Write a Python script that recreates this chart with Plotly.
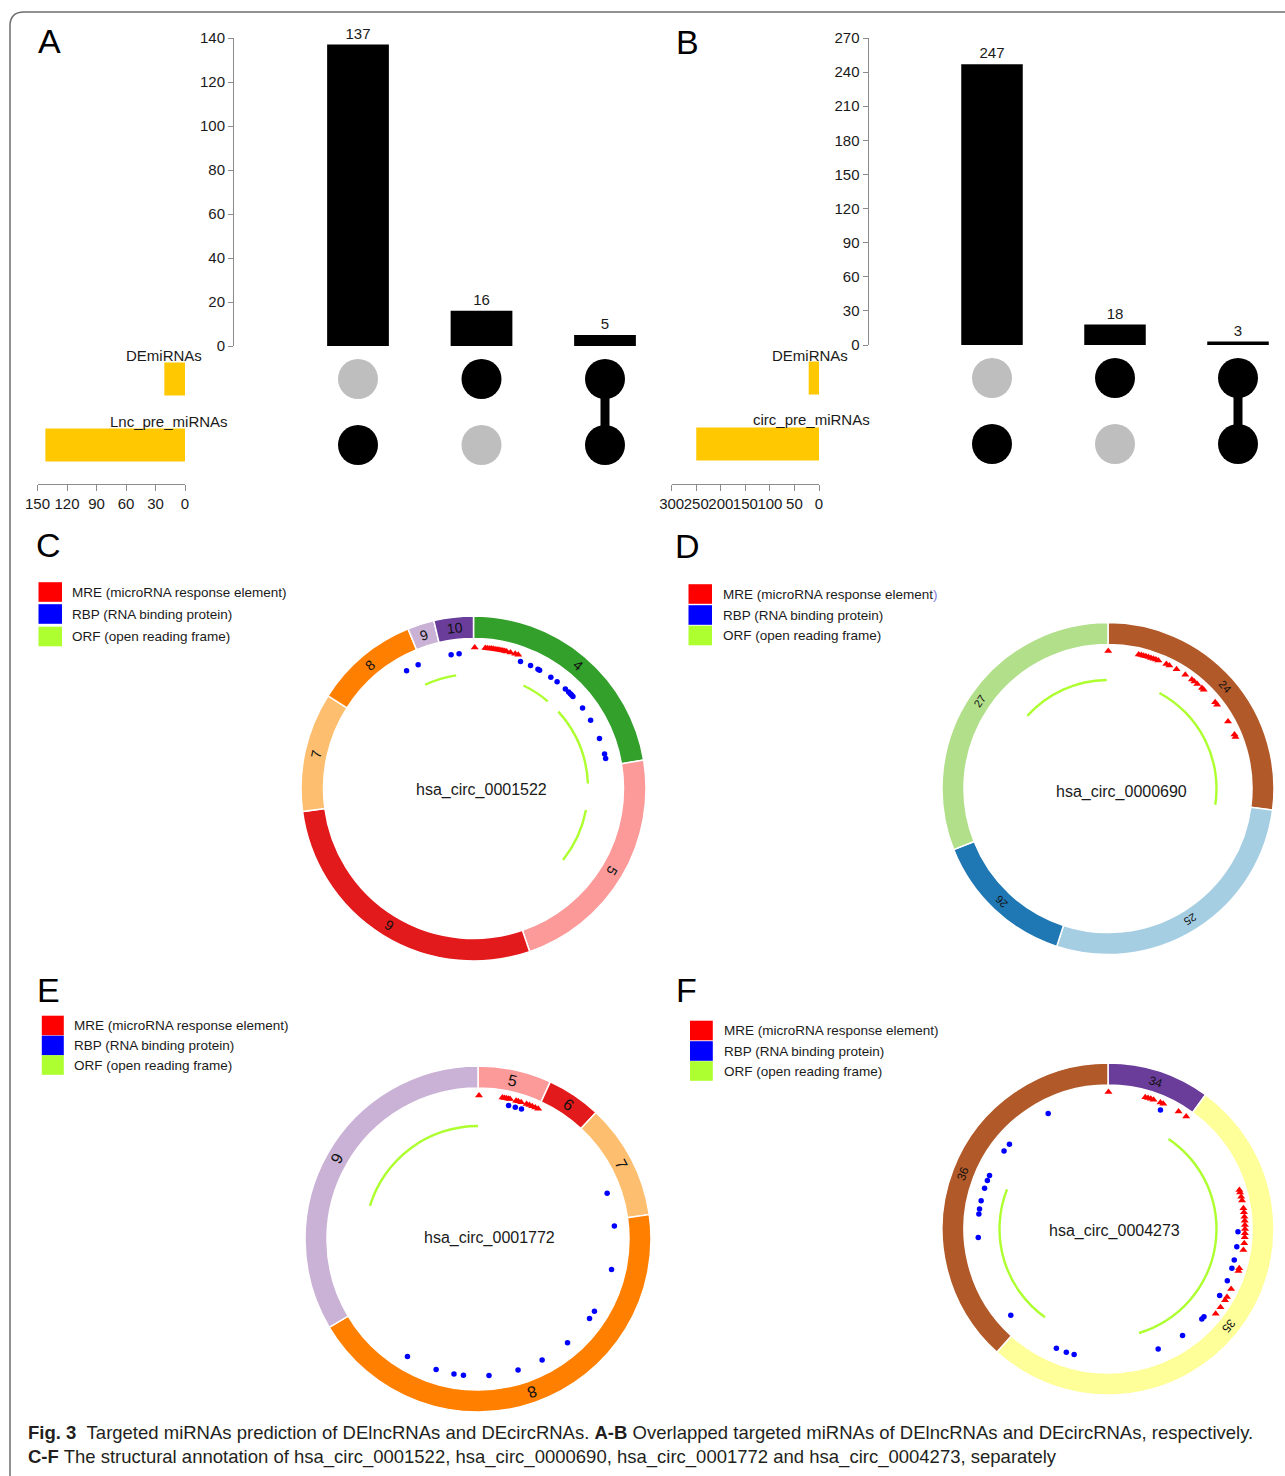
import math
import plotly.graph_objects as go

W, H = 1285, 1476
FONT = "Liberation Sans, Arial, Helvetica, sans-serif"


def px(x):
    return x / W


def py(y):
    return 1 - y / H


# ---------------- UpSet data ----------------
A_sets = ["DEmiRNAs", "Lnc_pre_miRNAs"]
A_counts = [137, 16, 5]
A_members = [[0, 1], [1, 0], [1, 1]]          # membership of each intersection in A_sets
A_count_ticks = [0, 20, 40, 60, 80, 100, 120, 140]
A_size_ticks = [0, 30, 60, 90, 120, 150]

B_sets = ["DEmiRNAs", "circ_pre_miRNAs"]
B_counts = [247, 18, 3]
B_members = [[0, 1], [1, 0], [1, 1]]
B_count_ticks = [0, 30, 60, 90, 120, 150, 180, 210, 240, 270]
B_size_ticks = [0, 50, 100, 150, 200, 250, 300]

# ------- circRNA structure (angles in degrees, clockwise from 12 o'clock) -------
C_name = "hsa_circ_0001522"
C_exons = [4, 5, 6, 7, 8, 9, 10]
C_bounds = [0, 80.5, 161, 262.3, 302.5, 337.7, 346.7, 360]
C_mre = [0.5, 4.8, 5.6, 6.4, 7.2, 8.0, 8.8, 9.6, 10.4, 11.2, 12.0, 12.8, 13.6, 15.2, 17.2, 18.5]
C_rbp = [20.3, 24.9, 28.4, 29.2, 34.8, 38.1, 42.7, 44.6, 45.6, 46.4, 47.2, 53.6, 59.8, 68.4,
         75.3, 77.2, 330.4, 335.9, 350.5, 353.9]
C_orf_start = [335.0, 25.9, 47.8, 100.8]
C_orf_end = [351.3, 40.4, 87.5, 128.6]

D_name = "hsa_circ_0000690"
D_exons = [24, 25, 26, 27]
D_bounds = [0, 97.5, 198, 248.4, 360]
D_mre = [0.1, 12.9, 14.0, 15.0, 16.0, 17.1, 18.2, 19.3, 20.4, 21.5, 25.1, 26.5, 29.9, 34.2,
         37.6, 38.9, 40.5, 43.1, 44.1, 51.2, 52.5, 60.8, 66.9, 68.0]
D_rbp = []
D_orf_start = [312.0, 28.3]
D_orf_end = [359.3, 98.6]

E_name = "hsa_circ_0001772"
E_exons = [5, 6, 7, 8, 9]
E_bounds = [0, 24.7, 43, 81.9, 239.3, 360]
E_mre = [0.4, 9.8, 10.6, 11.4, 12.2, 12.9, 15.4, 16.3, 17.5, 19.8, 21.0, 22.2, 23.5, 24.8]
E_rbp = [12.9, 15.8, 18.5, 70.5, 84.6, 102.9, 121.8, 125.5, 139.2, 152.1, 163.0, 175.4,
         186.1, 190.1, 197.8, 211.0]
E_orf_start = [287.0]
E_orf_end = [360.0]

F_name = "hsa_circ_0004273"
F_exons = [34, 35, 36]
F_bounds = [0, 36, 222.1, 360]
F_mre = [0.2, 15.8, 17.0, 18.2, 19.4, 22.5, 23.8, 31.0, 34.8, 73.5, 74.5, 76.4, 78.0, 81.3,
         83.0, 84.9, 86.5, 88.3, 90.0, 91.8, 93.5, 96.0, 98.8, 106.7, 107.8, 116.0, 119.7,
         121.3, 124.8, 128.2]
F_rbp = [23.8, 91.2, 97.8, 103.8, 107.6, 113.4, 120.8, 132.4, 133.8, 145.0, 157.3, 195.1,
         198.7, 203.4, 228.4, 266.3, 276.6, 278.8, 282.6, 288.3, 291.9, 294.3, 306.9, 310.7,
         332.6]
F_orf_start = [33.9, 215.5]
F_orf_end = [163.4, 291.4]

LEGEND_LABELS = ["MRE (microRNA response element)", "RBP (RNA binding protein)",
                 "ORF (open reading frame)"]

# ---------------- styles ----------------
PAIRED = ["#a6cee3", "#1f78b4", "#b2df8a", "#33a02c", "#fb9a99", "#e31a1c",
          "#fdbf6f", "#ff7f00", "#cab2d6", "#6a3d9a", "#ffff99", "#b15928"]
MRE_COLOR, RBP_COLOR, ORF_COLOR = "#ff0000", "#0000ff", "#adff2f"
SET_BAR_COLOR = "#ffc800"
DOT_ON, DOT_OFF = "#000000", "#bebebe"
AXIS_GREY = "#8c8c8c"
TXT = "#1a1a1a"

fig = go.Figure()
layout = {}
annotations = []
shapes = []


def key(kind, n):
    return kind + ("" if n == 1 else str(n))


def ref(kind, n):
    return kind[0] + ("" if n == 1 else str(n))


def add_upset(sets, counts, members, count_ticks, size_ticks, ids, g):
    nb, nm, ns = ids
    cols = list(range(len(counts)))
    rows = list(range(len(sets)))
    sizes = [sum(c for c, m in zip(counts, members) if m[i]) for i in rows]
    x_range = [-0.5, -0.5 + (g["bar_x1"] - g["bar_x0"]) / g["step"]]
    xdom = [px(g["bar_x0"]), px(g["bar_x1"])]
    hidden = dict(visible=False, automargin=False, fixedrange=True)

    # intersection size bars
    fig.add_trace(go.Bar(x=cols, y=counts, width=0.5, marker=dict(color="black", line_width=0),
                         text=[str(c) for c in counts], textposition="outside",
                         textfont=dict(size=15, color=TXT, family=FONT), constraintext="none",
                         cliponaxis=False, xaxis=ref("x", nb), yaxis=ref("y", nb),
                         hoverinfo="skip"))
    layout[key("xaxis", nb)] = dict(domain=xdom, range=x_range, anchor=ref("y", nb), **hidden)
    layout[key("yaxis", nb)] = dict(domain=[py(g["bar_bottom"]), py(g["bar_top"])],
                                    range=[0, count_ticks[-1]], anchor="free",
                                    position=px(g["axis_x"]), showline=True,
                                    linecolor=AXIS_GREY, linewidth=1, ticks="outside",
                                    ticklen=5, tickcolor=AXIS_GREY, tickvals=count_ticks,
                                    tickangle=0, automargin=False,
                                    tickfont=dict(size=15, color=TXT, family=FONT),
                                    showgrid=False, zeroline=False, fixedrange=True)

    # membership matrix
    for c, m in zip(cols, members):
        on = [r for r in rows if m[r]]
        if len(on) > 1:
            fig.add_trace(go.Scatter(x=[c, c], y=[min(on), max(on)], mode="lines",
                                     line=dict(color=DOT_ON, width=9),
                                     xaxis=ref("x", nm), yaxis=ref("y", nm), hoverinfo="skip"))
    dx, dy, dc = [], [], []
    for c, m in zip(cols, members):
        for r in rows:
            dx.append(c)
            dy.append(r)
            dc.append(DOT_ON if m[r] else DOT_OFF)
    fig.add_trace(go.Scatter(x=dx, y=dy, mode="markers",
                             marker=dict(size=40, color=dc, line_width=0),
                             xaxis=ref("x", nm), yaxis=ref("y", nm), hoverinfo="skip"))
    layout[key("xaxis", nm)] = dict(domain=xdom, range=x_range, anchor=ref("y", nm), **hidden)
    layout[key("yaxis", nm)] = dict(domain=[py(g["mat_bottom"]), py(g["mat_top"])],
                                    range=[len(rows) - 0.5, -0.5], anchor=ref("x", nm),
                                    **hidden)

    # set size bars
    fig.add_trace(go.Bar(x=sizes, y=rows, orientation="h", width=0.5,
                         marker=dict(color=SET_BAR_COLOR, line_width=0),
                         xaxis=ref("x", ns), yaxis=ref("y", ns), hoverinfo="skip"))
    layout[key("xaxis", ns)] = dict(domain=[px(g["size_x0"]), px(g["size_x1"])],
                                    range=[size_ticks[-1], 0], anchor="free",
                                    position=py(g["size_axis_y"]), side="bottom",
                                    showline=True, linecolor=AXIS_GREY, linewidth=1,
                                    ticks="outside", ticklen=6, tickcolor=AXIS_GREY,
                                    tickvals=size_ticks, tickangle=0, automargin=False,
                                    tickfont=dict(size=15, color=TXT, family=FONT),
                                    showgrid=False, zeroline=False, fixedrange=True)
    layout[key("yaxis", ns)] = dict(domain=[py(g["mat_bottom"]), py(g["mat_top"])],
                                    range=[len(rows) - 0.5, -0.5], anchor=ref("x", ns),
                                    **hidden)

    for name, xr, yl in zip(sets, g["label_right"], g["label_y"]):
        annotations.append(dict(text=name, x=px(xr), y=py(yl), xref="paper", yref="paper",
                                xanchor="right", yanchor="middle", showarrow=False,
                                font=dict(size=15, color=TXT, family=FONT)))


add_upset(A_sets, A_counts, A_members, A_count_ticks, A_size_ticks, (1, 2, 3),
          dict(bar_x0=296.25, bar_x1=667, step=123.5, bar_top=38, bar_bottom=346,
               axis_x=233, mat_top=346, mat_bottom=478, size_x0=37.5, size_x1=185,
               size_axis_y=484, label_right=[204, 230], label_y=[355, 421]))
add_upset(B_sets, B_counts, B_members, B_count_ticks, B_size_ticks, (4, 5, 6),
          dict(bar_x0=930.5, bar_x1=1285, step=123, bar_top=38, bar_bottom=345,
               axis_x=867.5, mat_top=345, mat_bottom=477, size_x0=671.7, size_x1=819,
               size_axis_y=484, label_right=[850, 871.6], label_y=[355, 419]))


def add_circ(pid, name, exons, bounds, mre, rbp, orf_start, orf_end, cfg):
    cx, cy, half = cfg["cx"], cfg["cy"], cfg["half"]
    r_in, r_out = cfg["r_in"], cfg["r_out"]
    starts, ends = bounds[:-1], bounds[1:]
    mids = [(a + b) / 2 for a, b in zip(starts, ends)]
    spans = [b - a for a, b in zip(starts, ends)]
    colors = [PAIRED[(e - 1) % 12] for e in exons]

    fig.add_trace(go.Barpolar(theta=mids, width=spans, r=[r_out - r_in] * len(exons),
                              base=r_in, marker=dict(color=colors,
                                                     line=dict(color="white", width=1.5)),
                              subplot=pid, hoverinfo="skip"))
    if orf_start:
        o_mid = [(a + b) / 2 for a, b in zip(orf_start, orf_end)]
        o_span = [b - a for a, b in zip(orf_start, orf_end)]
        fig.add_trace(go.Barpolar(theta=o_mid, width=o_span, r=[2.4] * len(o_mid),
                                  base=cfg["orf_r"] - 1.2,
                                  marker=dict(color=ORF_COLOR, line_width=0),
                                  subplot=pid, hoverinfo="skip"))
    if rbp:
        fig.add_trace(go.Scatterpolar(theta=rbp, r=[cfg["rbp_r"]] * len(rbp), mode="markers",
                                      marker=dict(symbol="circle", size=5.5, color=RBP_COLOR,
                                                  line_width=0),
                                      subplot=pid, hoverinfo="skip"))
    if mre:
        fig.add_trace(go.Scatterpolar(theta=mre, r=[cfg["mre_r"]] * len(mre), mode="markers",
                                      marker=dict(symbol="triangle-up", size=7,
                                                  color=MRE_COLOR, line_width=0),
                                      subplot=pid, hoverinfo="skip"))

    layout[pid] = dict(domain=dict(x=[px(cx - half), px(cx + half)],
                                   y=[py(cy + half), py(cy - half)]),
                       bgcolor="rgba(0,0,0,0)", barmode="overlay", hole=0,
                       angularaxis=dict(rotation=90, direction="clockwise", visible=False,
                                        showgrid=False, thetaunit="degrees"),
                       radialaxis=dict(range=[0, half], visible=False, showgrid=False))

    # exon numbers written along the ring
    rl = (r_in + r_out) / 2
    for e, m in zip(exons, mids):
        t = math.radians(m)
        annotations.append(dict(text=str(e), x=px(cx + rl * math.sin(t)),
                                y=py(cy - rl * math.cos(t)), xref="paper", yref="paper",
                                xanchor="center", yanchor="middle", showarrow=False,
                                textangle=m if m <= 180 else m - 360,
                                font=dict(size=cfg["lab"], color="#111", family=FONT)))
    annotations.append(dict(text=name, x=px(cfg["name_xy"][0]), y=py(cfg["name_xy"][1]),
                            xref="paper", yref="paper", xanchor="center", yanchor="middle",
                            showarrow=False, font=dict(size=16, color=TXT, family=FONT)))

    # key
    lg = cfg["legend"]
    labels = lg.get("labels", LEGEND_LABELS)
    for col, yc, lab in zip([MRE_COLOR, RBP_COLOR, ORF_COLOR], lg["yc"], labels):
        shapes.append(dict(type="rect", xref="paper", yref="paper", x0=px(lg["x0"]),
                           x1=px(lg["x1"]), y0=py(yc + 9.8), y1=py(yc - 9.8),
                           fillcolor=col, line_width=0))
        annotations.append(dict(text=lab, x=px(lg["tx"]), y=py(yc), xref="paper",
                                yref="paper", xanchor="left", yanchor="middle",
                                showarrow=False,
                                font=dict(size=13.5, color=TXT, family=FONT)))


add_circ("polar", C_name, C_exons, C_bounds, C_mre, C_rbp, C_orf_start, C_orf_end,
         dict(cx=473.5, cy=788.5, half=178, r_in=150, r_out=172.5, mre_r=141, rbp_r=135.5,
              orf_r=114.5, lab=14, name_xy=(481, 790),
              legend=dict(x0=38.5, x1=62, yc=[592, 614, 636.5], tx=70)))
add_circ("polar2", D_name, D_exons, D_bounds, D_mre, D_rbp, D_orf_start, D_orf_end,
         dict(cx=1108, cy=788.5, half=170, r_in=144, r_out=166, mre_r=137.5, rbp_r=130,
              orf_r=108.5, lab=11, name_xy=(1121.5, 791.5),
              legend=dict(x0=688.5, x1=712, yc=[594, 615, 635.5], tx=721,
                          labels=["MRE (microRNA response element"
                                  "<span style='color:#7d7de0'>)</span>",
                                  LEGEND_LABELS[1], LEGEND_LABELS[2]])))
add_circ("polar3", E_name, E_exons, E_bounds, E_mre, E_rbp, E_orf_start, E_orf_end,
         dict(cx=478, cy=1239, half=178, r_in=151, r_out=173, mre_r=143.5, rbp_r=137,
              orf_r=113, lab=16, name_xy=(489, 1237.5),
              legend=dict(x0=41.8, x1=63.8, yc=[1025.5, 1045.5, 1065], tx=72)))
add_circ("polar4", F_name, F_exons, F_bounds, F_mre, F_rbp, F_orf_start, F_orf_end,
         dict(cx=1108, cy=1229, half=170, r_in=144, r_out=166, mre_r=137, rbp_r=130,
              orf_r=108.5, lab=12, name_xy=(1114.5, 1230.5),
              legend=dict(x0=690, x1=712.8, yc=[1030.5, 1051, 1071], tx=721.5)))

# panel letters
for letter, lx, ly in [("A", 49, 41), ("B", 687, 41.5), ("C", 48, 545),
                       ("D", 687, 546), ("E", 48, 990), ("F", 686, 990)]:
    annotations.append(dict(text=letter, x=px(lx), y=py(ly), xref="paper", yref="paper",
                            xanchor="center", yanchor="middle", showarrow=False,
                            font=dict(size=34, color="black", family=FONT)))

# figure caption
caption = [
    "<b>Fig. 3</b>&nbsp;&nbsp;Targeted miRNAs prediction of DElncRNAs and DEcircRNAs. "
    "<b>A-B</b> Overlapped targeted miRNAs of DElncRNAs and DEcircRNAs, respectively.",
    "<b>C-F</b> The structural annotation of hsa_circ_0001522, hsa_circ_0000690, "
    "hsa_circ_0001772 and hsa_circ_0004273, separately",
]
for line, ly in zip(caption, [1432, 1457]):
    annotations.append(dict(text=line, x=px(26), y=py(ly), xref="paper", yref="paper",
                            xanchor="left", yanchor="middle", showarrow=False,
                            font=dict(size=18.5, color="#231f20", family=FONT)))

# rounded frame around the figure (top-left corner visible)
fx0, fy0, rad = 10, 12, 14
frame = (f"M {px(fx0)},{py(1480)} L {px(fx0)},{py(fy0 + rad)} "
         f"Q {px(fx0)},{py(fy0)} {px(fx0 + rad)},{py(fy0)} L {px(1290)},{py(fy0)}")
shapes.append(dict(type="path", path=frame, xref="paper", yref="paper",
                   line=dict(color="#6d6e70", width=1.5)))

fig.update_layout(template="none", width=W, height=H, autosize=False,
                  margin=dict(l=0, r=0, t=0, b=0, pad=0),
                  paper_bgcolor="white", plot_bgcolor="rgba(0,0,0,0)", showlegend=False,
                  font=dict(family=FONT, color=TXT), annotations=annotations, shapes=shapes,
                  **layout)

fig.write_html("out.html")
